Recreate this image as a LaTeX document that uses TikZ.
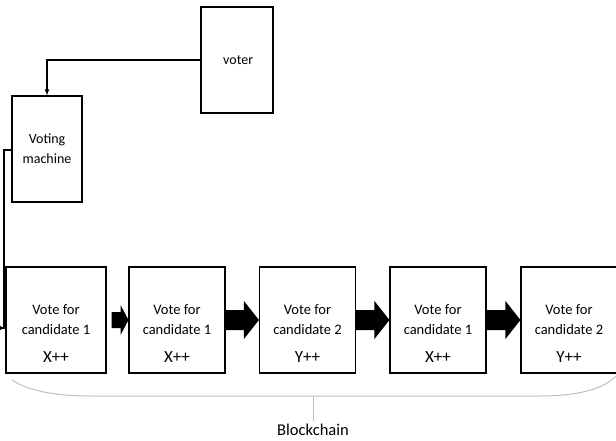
\documentclass[tikz,border=0pt]{standalone}
\usepackage{fontspec}
\setmainfont{Carlito}
\usetikzlibrary{calc}
\begin{document}
\begin{tikzpicture}[x=1pt,y=-1pt,
  box/.style={draw,line width=1.1pt,minimum width=#1,minimum height=106pt,inner sep=0pt,align=center,font=\fontsize{14}{20}\selectfont},
  box/.default=96pt,
  txt/.style={align=center,inner sep=0pt,font=\fontsize{14.5}{20}\selectfont},
  big/.style={font=\fontsize{17}{17}\selectfont},
  conn/.style={line width=1.1pt},
  barrow/.style={fill=black}]
\useasboundingbox (0,0) rectangle (616,441);
\node[box=72pt] (voter) at (237,60) {\,voter};
\node[box=70pt] (vm) at (47,149) {Voting\\machine};
\node[box=100pt] (b1) at (56,320) {};
\node[box=96pt] (b2) at (177,320) {};
\node[box=96pt] (b3) at (307.5,320) {};
\node[box=96pt] (b4) at (438,320) {};
\node[box=96pt] (b5) at (569,320) {};
\foreach \b/\n/\v in {b1/1/X,b2/1/X,b3/2/Y,b4/1/X,b5/2/Y}{
  \node[txt] (\b a) at ($(\b.center)+(0,-10)$) {Vote for};
  \node[txt] (\b c) at ($(\b.center)+(0,10)$) {candidate \n};
  \node[txt,big] (\b x) at ($(\b.center)+(0,37)$) {\v++};
}
\draw[conn,-latex] (voter.west) -| (vm.north);
\coordinate (c1) at (4,150);
\coordinate (c2) at (4,328);
\draw[conn,-latex] ($(vm.west)+(0,1)$) -- (c1) -- (c2) -- (c2 -| b1.west);
% block arrows
\fill[barrow] ($(b1.east)+(5,-8)$) -- ++(9,0) -- ++(0,-7) -- ($(b2.west)+(0,0)$) -- ($(b1.east)+(14,15)$) -- ++(0,-7) -- ($(b1.east)+(5,8)$) -- cycle;
\foreach \a/\b in {b2/b3,b3/b4,b4/b5}{
  \fill[barrow] ($(\a.east)+(0,-10)$) -- ($(\b.west)+(-15,-10)$) -- ($(\b.west)+(-15,-19)$) -- (\b.west) -- ($(\b.west)+(-15,19)$) -- ($(\b.west)+(-15,10)$) -- ($(\a.east)+(0,10)$) -- cycle;
}
% brace
\draw[black!25,line width=1pt] (12,380) .. controls (30,392) and (60,396) .. (90,396) -- (540,396) .. controls (580,396) and (605,388) .. (616,376);
\coordinate (tk) at (313,396);
\node[font=\fontsize{16.5}{16.5}\selectfont] (bc) at (313,430) {Blockchain};
\draw[black!25,line width=1pt] (tk) -- (bc.north);
\end{tikzpicture}
\end{document}
